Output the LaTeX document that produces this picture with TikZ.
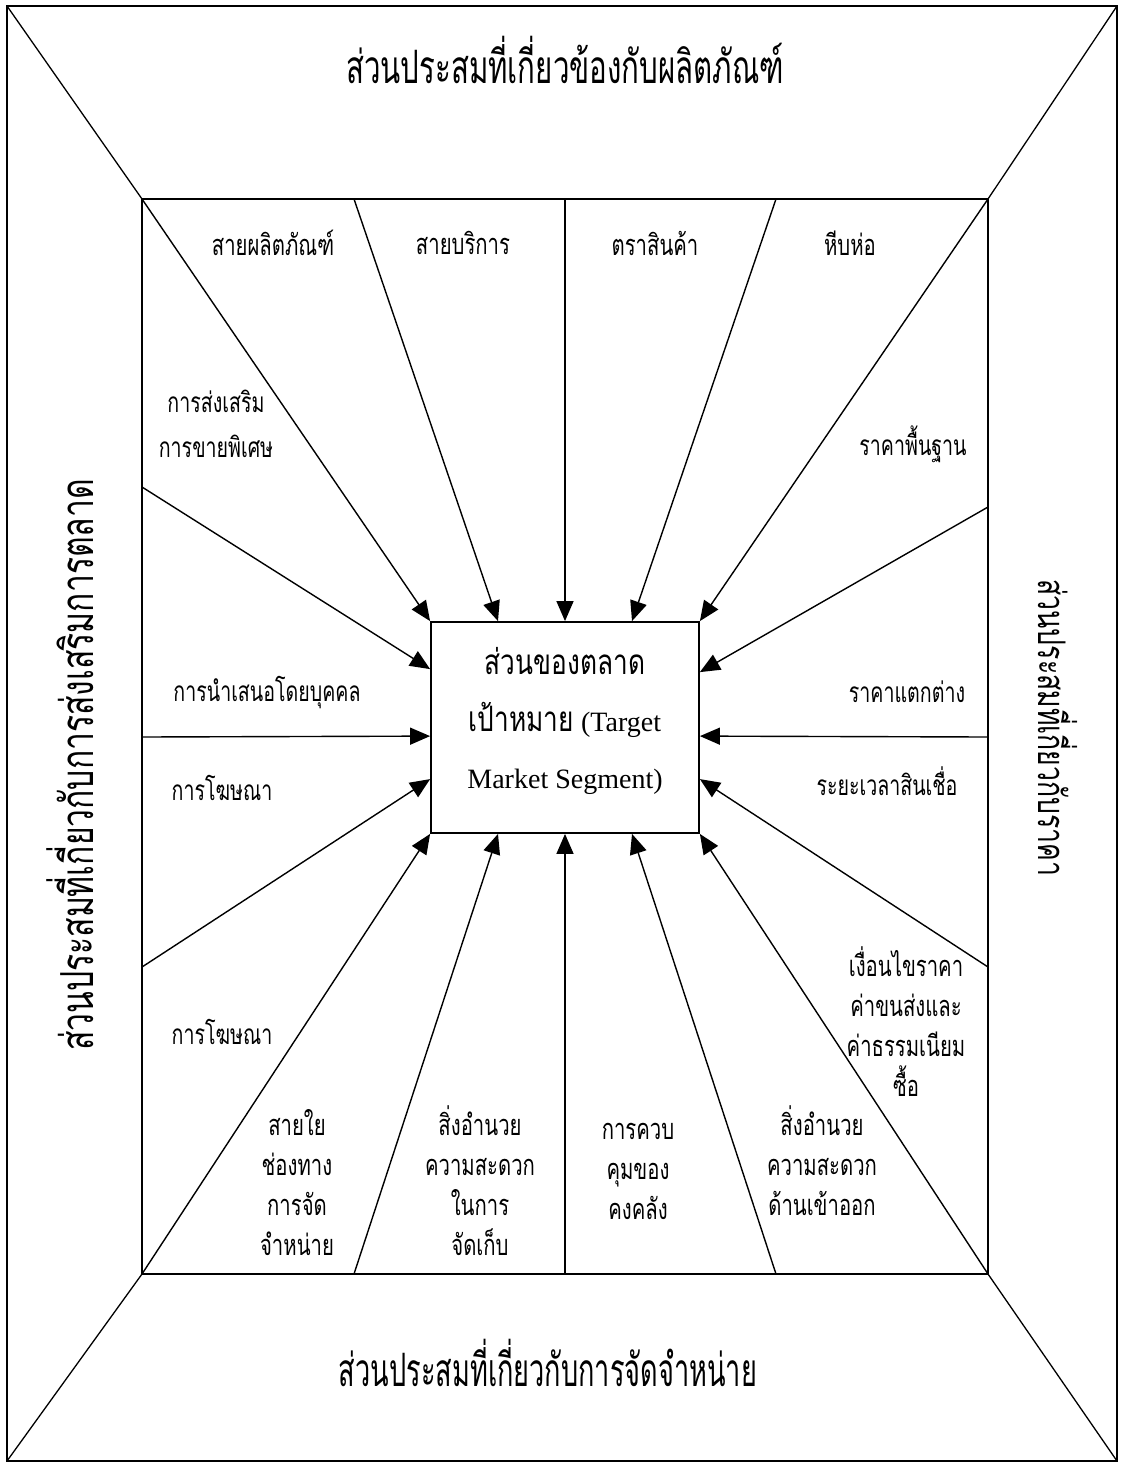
\documentclass[tikz,border=0pt]{standalone}
\usepackage{fontspec}
\setmainfont{Liberation Serif}
\newfontfamily\thaiC[Script=Thai,FakeStretch=0.64]{Loma}
\newfontfamily\thaiD[Script=Thai,FakeStretch=0.59]{Loma}
\newfontfamily\thaiN[Script=Thai,FakeStretch=0.7]{Loma}
\newfontfamily\thaiB[Script=Thai,FakeStretch=0.75]{Loma}
\usetikzlibrary{arrows.meta,calc}

\tikzset{
  frame/.style={line width=2pt},
  diag/.style={line width=1.3pt},
  arr/.style={line width=1.4pt,-{Triangle[length=20pt,width=17pt]}},
  ttl/.style={font=\thaiC\fontsize{46}{56}\selectfont,inner sep=0pt},
  lblc/.style={font=\thaiN\fontsize{29}{40}\selectfont,align=center,inner sep=0pt},
  lbln/.style={font=\thaiN\fontsize{28}{45}\selectfont,align=center,inner sep=0pt},
}

\begin{document}
\begin{tikzpicture}[x=1pt,y=-1pt]
\useasboundingbox (0,0) rectangle (1123,1465);

% frames
\coordinate (otl) at (7,6);
\coordinate (otr) at (1117,6);
\coordinate (obl) at (7,1461);
\coordinate (obr) at (1117,1461);
\coordinate (itl) at (142,199);
\coordinate (itr) at (988,199);
\coordinate (ibl) at (142,1274);
\coordinate (ibr) at (988,1274);
\draw[frame] (otl) rectangle (obr);
\draw[frame] (itl) rectangle (ibr);
\draw[diag] (otl) -- (itl) (otr) -- (itr) (obl) -- (ibl) (obr) -- (ibr);

% target market
\node[draw,line width=1.8pt,minimum width=268pt,minimum height=211pt] (seg) at (565,727.5) {};
\node[align=center,font=\fontsize{28}{57}\selectfont,inner sep=0pt] (segtxt) at ($(seg.center)+(0,-7)$)
  {{\thaiB\fontsize{35}{57}\selectfont ส่วนของตลาด}\\
   {\thaiB\fontsize{35}{57}\selectfont เป้าหมาย} (Target\\
   Market Segment)};

% start points on the inner frame
\coordinate (t2) at (354,199);
\coordinate (t3) at (565,199);
\coordinate (t4) at (776,199);
\coordinate (b2) at (354,1274);
\coordinate (b3) at (565,1274);
\coordinate (b4) at (776,1274);
\coordinate (l2) at (142,487);
\coordinate (l3) at (142,737);
\coordinate (l4) at (142,967);
\coordinate (r2) at (988,507);
\coordinate (r3) at (988,737);
\coordinate (r4) at (988,967);

% end points on the box
\coordinate (n2) at ($(seg.north)+(-67,0)$);
\coordinate (n4) at ($(seg.north)+(67,0)$);
\coordinate (s2) at ($(seg.south)+(-67,0)$);
\coordinate (s4) at ($(seg.south)+(67,0)$);
\coordinate (w2) at ($(seg.north west)+(0,48)$);
\coordinate (w3) at ($(seg.north west)+(0,115)$);
\coordinate (w4) at ($(seg.north west)+(0,158)$);
\coordinate (e2) at ($(seg.north east)+(0,51)$);
\coordinate (e3) at ($(seg.north east)+(0,115)$);
\coordinate (e4) at ($(seg.north east)+(0,158)$);

\foreach \a/\b in {itl/seg.north west,t2/n2,t3/seg.north,t4/n4,itr/seg.north east,
                   l2/w2,l3/w3,l4/w4,r2/e2,r3/e3,r4/e4,
                   ibl/seg.south west,b2/s2,b3/seg.south,b4/s4,ibr/seg.south east}
  \draw[arr] (\a) -- (\b);

% titles
\node[ttl] (tprod) at (565,60) {ส่วนประสมที่เกี่ยวข้องกับผลิตภัณฑ์};
\node[ttl,font=\thaiD\fontsize{46}{56}\selectfont] (tdist) at (548,1363) {ส่วนประสมที่เกี่ยวกับการจัดจำหน่าย};
\node[ttl,font=\thaiN\fontsize{45.5}{56}\selectfont,rotate=90] (tprom) at (70,765) {ส่วนประสมที่เกี่ยวกับการส่งเสริมการตลาด};
\node[ttl,font=\thaiN\fontsize{38}{56}\selectfont,rotate=-90] (tprice) at (1058,728) {ส่วนประสมที่เกี่ยวกับราคา};

% product
\node[lblc] (pline) at (273,243) {สายผลิตภัณฑ์};
\node[lblc] (sline) at (463,243) {สายบริการ};
\node[lblc] (brand) at (655,243) {ตราสินค้า};
\node[lblc] (pack) at (850,243) {หีบห่อ};

% promotion
\node[lbln] (salesp) at (216,424) {การส่งเสริม\\การขายพิเศษ};
\node[lbln] (pers) at (267,693) {การนำเสนอโดยบุคคล};
\node[lbln] (adv1) at (222,788) {การโฆษณา};
\node[lbln] (adv2) at (222,1032) {การโฆษณา};

% price
\node[lbln] (basep) at (913,444) {ราคาพื้นฐาน};
\node[lbln] (diffp) at (907,692) {ราคาแตกต่าง};
\node[lbln] (credit) at (887,781) {ระยะเวลาสินเชื่อ};
\node[lblc] (terms) at (906,1022) {เงื่อนไขราคา\\ค่าขนส่งและ\\ค่าธรรมเนียม\\ซื้อ};

% distribution
\node[lblc] (chan) at (297,1183) {สายใย\\ช่องทาง\\การจัด\\จำหน่าย};
\node[lblc] (store) at (480,1181) {สิ่งอำนวย\\ความสะดวก\\ในการ\\จัดเก็บ};
\node[lblc] (inv) at (638,1171) {การควบ\\คุมของ\\คงคลัง};
\node[lblc] (trans) at (822,1161) {สิ่งอำนวย\\ความสะดวก\\ด้านเข้าออก};
\end{tikzpicture}
\end{document}
